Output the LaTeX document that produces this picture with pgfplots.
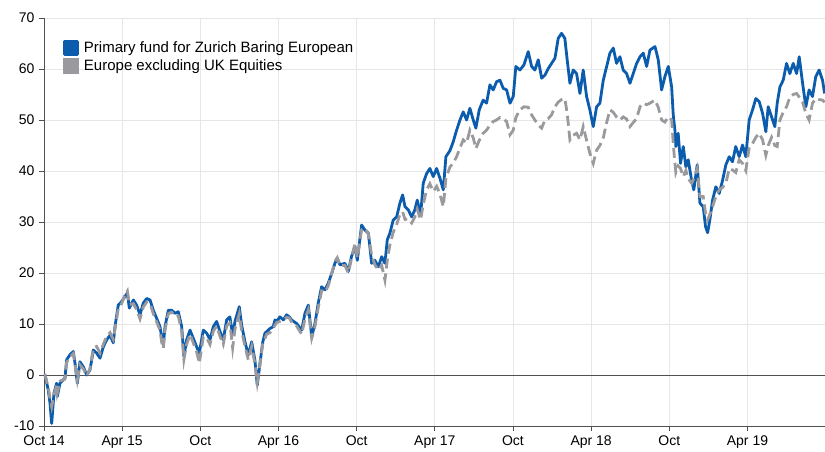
\documentclass[border=0pt]{standalone}
\usepackage{fontspec}
\setmainfont{Liberation Sans}
\usepackage{pgfplots}
\pgfplotsset{compat=1.18}
\definecolor{fundblue}{HTML}{0B5CAD}
\definecolor{benchgrey}{HTML}{9A9A9E}
\definecolor{gridgrey}{HTML}{E6E6E6}
\definecolor{axisgrey}{HTML}{505050}
\begin{document}
\begin{tikzpicture}
\begin{axis}[
  name=ax,
  scale only axis,
  width=781pt, height=408pt,
  xmin=0, xmax=59.95, ymin=-10, ymax=70,
  axis x line=bottom, axis y line=left,
  axis line style={-, axisgrey, line width=0.9pt},
  xtick={0,6,12,18,24,30,36,42,48,54},
  xticklabels={Oct 14,Apr 15,Oct,Apr 16,Oct,Apr 17,Oct,Apr 18,Oct,Apr 19},
  ytick={-10,0,10,20,30,40,50,60,70},
  extra y ticks={0}, extra y tick labels={},
  extra y tick style={grid style={axisgrey, line width=0.9pt}, major tick length=0pt},
  xmajorgrids, ymajorgrids,
  grid style={gridgrey, line width=0.8pt},
  tick align=outside,
  major tick length=5pt,
  tick style={axisgrey, line width=0.9pt},
  every tick label/.append style={font=\fontsize{14}{16}\selectfont, text=black},
  /pgf/number format/assume math mode=true,
  xticklabel style={yshift=-1pt},
  yticklabel style={xshift=-1pt},
  clip=true,
  legend cell align=left,
  legend style={at={(0.0243,0.951)}, anchor=north west, draw=none, fill=none,
    font=\fontsize{15}{17}\selectfont, inner xsep=0pt, inner ysep=0pt,
    nodes={inner xsep=5pt, inner ysep=3.5pt}, row sep=-1.5pt},
  legend image code/.code={\fill[#1, solid] (0pt,-6.5pt) rectangle (13pt,6.5pt);},
]
\addplot[color=fundblue, line width=2.8pt, line join=round] coordinates {
(0.00,0) (0.08,0) (0.33,-3) (0.46,-5.5) (0.59,-9.5) (0.77,-3.5) (0.97,-1.6) (1.02,-4.2) (1.23,-1.6) (1.61,-0.6)
(1.74,3) (2.0,4) (2.25,4.6) (2.38,2.3) (2.56,-1.6) (2.76,2.6) (3.02,1.6) (3.28,0) (3.53,1) (3.79,4.9)
(4.04,4.3) (4.30,3.3) (4.55,5.5) (4.81,6.9) (5.07,7.8) (5.32,6.3) (5.45,9.5) (5.70,13.7) (5.96,14.4) (6.22,15.4)
(6.40,16.1) (6.55,13.1) (6.86,14.7) (7.11,13.7) (7.37,11.8) (7.62,14.1) (7.88,15) (8.14,14.7) (8.39,12.7) (8.65,11.1)
(8.90,9.5) (9.03,7.5) (9.16,5.9) (9.29,9.5) (9.54,12.7) (9.80,12.7) (10.05,12.1) (10.31,12.4) (10.57,9.5) (10.74,3.6)
(10.95,6.9) (11.21,8.8) (11.46,7.2) (11.72,5.5) (11.92,4.3) (12.23,8.8) (12.49,8.2) (12.74,6.9) (13.0,9.5) (13.25,10.5)
(13.51,8.5) (13.76,6.9) (14.02,10.8) (14.27,11.4) (14.48,7.8) (14.66,10.5) (14.99,13.4) (15.17,9.8) (15.43,6.5) (15.68,3.9)
(15.94,6.5) (16.19,2.9) (16.37,-2) (16.58,2.3) (16.78,6.3) (16.96,8.2) (17.09,8.5) (17.34,9.1) (17.60,9.5) (17.73,10.8)
(17.86,10.5) (18.11,11.4) (18.37,10.8) (18.62,11.8) (18.83,11.4) (19.0,10.8) (19.39,10.1) (19.78,8.8) (20.03,12.1) (20.29,13.7)
(20.55,7.5) (20.8,10.1) (21.05,14.1) (21.31,17.3) (21.57,16.7) (21.82,18.0) (22.08,19.9) (22.33,21.9) (22.51,22.9) (22.72,21.6)
(23.1,21.9) (23.36,20.3) (23.6,23.2) (23.87,25.2) (24.05,22.5) (24.38,29.4) (24.64,28.4) (24.9,27.8) (25.15,21.9) (25.4,22.5)
(25.66,21.2) (25.92,23.2) (26.17,21.9) (26.35,26.5) (26.55,27.8) (26.81,30.4) (27.07,31.0) (27.32,33.7) (27.53,35.3) (27.71,33.0)
(27.96,32.4) (28.22,31.0) (28.47,32.4) (28.65,34.3) (28.91,31.4) (29.11,37.6) (29.37,39.5) (29.62,40.5) (29.88,38.9) (30.14,40.5)
(30.39,38.6) (30.65,36.3) (30.85,42.8) (31.16,44.0) (31.41,45.7) (31.67,48.0) (31.93,50.0) (32.18,51.6) (32.44,50.0) (32.69,52.3)
(32.95,50.0) (33.15,48.4) (33.41,52.0) (33.71,53.9) (33.97,53.3) (34.23,56.9) (34.48,55.9) (34.74,57.5) (35.0,57.8) (35.25,56.2)
(35.51,55.9) (35.77,53.3) (36.02,54.6) (36.22,60.5) (36.53,59.8) (36.84,60.8) (37.17,63.4) (37.43,60.5) (37.68,59.8) (37.94,61.8)
(38.2,58.2) (38.45,58.8) (38.71,60.1) (38.96,61.1) (39.22,62.1) (39.47,66.0) (39.73,67.0) (39.98,66.0) (40.16,61.8) (40.37,57.2)
(40.62,59.8) (40.88,59.1) (41.14,55.2) (41.39,59.8) (41.65,54.6) (41.9,52.0) (42.16,48.7) (42.42,52.6) (42.67,53.3) (42.93,57.8)
(43.19,60.5) (43.44,63.1) (43.7,64.1) (43.95,61.1) (44.21,62.4) (44.46,59.8) (44.72,59.1) (44.98,57.2) (45.23,59.1) (45.49,61.1)
(45.75,62.4) (46.0,63.1) (46.26,60.5) (46.51,63.7) (46.9,64.4) (47.15,61.8) (47.41,55.9) (47.66,58.5) (47.92,60.5) (48.18,56.5)
(48.3,51.0) (48.43,48.0) (48.5,44.8) (48.68,47.4) (48.86,41.5) (49.07,44.8) (49.27,40.8) (49.45,42.2) (49.71,38.2) (49.88,36.3)
(50.14,41.2) (50.35,33.7) (50.6,33.0) (50.78,29.1) (50.94,27.9) (51.11,30.4) (51.32,34.3) (51.57,36.9) (51.83,35.6) (52.09,38.2)
(52.34,41.2) (52.6,42.8) (52.85,41.8) (53.1,44.8) (53.36,42.8) (53.62,45.1) (53.87,42.8) (54.13,50.0) (54.39,52.0) (54.64,54.2)
(54.9,53.6) (55.16,51.3) (55.41,47.7) (55.59,52.6) (55.85,50.6) (56.1,48.7) (56.28,53.3) (56.49,56.5) (56.74,57.8) (57.0,61.1)
(57.25,59.1) (57.51,61.1) (57.77,59.1) (57.97,62.4) (58.23,57.2) (58.48,52.6) (58.73,55.9) (58.99,54.6) (59.24,58.5) (59.5,59.8)
(59.76,57.8) (59.92,55.2)
};
\addlegendentry{Primary fund for Zurich Baring European}
\addplot[color=benchgrey, line width=2.8pt, dash pattern=on 10pt off 5pt] coordinates {
(0.00,0) (0.08,0) (0.33,-2.5) (0.46,-4.5) (0.59,-6.2) (0.77,-3.8) (0.97,-2) (1.02,-3.5) (1.23,-1.2) (1.61,-0.8)
(1.74,2.5) (2.0,3.6) (2.25,4.2) (2.38,2.0) (2.56,-1.0) (2.76,2.0) (3.02,1.2) (3.28,-0.2) (3.53,1.3) (3.79,5.3)
(4.04,5.6) (4.30,4.3) (4.55,6.0) (4.81,7.6) (5.07,8.3) (5.32,7.0) (5.45,9.0) (5.70,13.0) (5.96,14.0) (6.22,15.8)
(6.40,16.5) (6.55,13.8) (6.86,14.0) (7.11,12.8) (7.37,11.0) (7.62,13.3) (7.88,14.3) (8.14,14.0) (8.39,12.0) (8.65,10.4)
(8.90,8.8) (9.03,6.5) (9.16,5.2) (9.29,8.8) (9.54,12.0) (9.80,12.3) (10.05,11.5) (10.31,11.6) (10.57,8.5) (10.74,3.0)
(10.95,6.0) (11.21,8.0) (11.46,6.3) (11.72,4.5) (11.92,2.3) (12.23,7.5) (12.49,7.3) (12.74,6.0) (13.0,8.6) (13.25,9.6)
(13.51,7.6) (13.76,6.0) (14.02,9.6) (14.27,10.2) (14.48,5.3) (14.66,9.0) (14.99,12.0) (15.17,8.6) (15.43,5.6) (15.68,3.0)
(15.94,5.6) (16.19,2.2) (16.37,-1.5) (16.58,2.0) (16.78,6.0) (17.09,8.0) (17.34,8.3) (17.60,9.2) (17.86,10.3) (18.11,10.5)
(18.37,10.8) (18.62,11.3) (18.83,11.2) (19.0,10.4) (19.39,9.6) (19.78,8.0) (20.03,11.0) (20.29,12.8) (20.55,7.2) (20.8,9.5)
(21.05,13.2) (21.31,16.5) (21.57,16.2) (21.82,17.5) (22.08,19.8) (22.33,22.3) (22.51,23.0) (22.72,21.4) (23.1,21.5) (23.36,20.0)
(23.6,22.8) (23.87,25.8) (24.05,23.0) (24.38,28.5) (24.64,28.8) (24.9,27.6) (25.15,23.5) (25.4,21.6) (25.66,20.6) (25.92,21.5)
(26.17,18.6) (26.35,22.5) (26.55,25.5) (26.81,28.0) (27.07,29.5) (27.32,31.5) (27.53,32.0) (27.71,30.5) (27.96,30.6) (28.22,29.8)
(28.47,31.0) (28.65,32.5) (28.91,30.4) (29.11,33.5) (29.37,36.3) (29.62,37.5) (29.88,36.0) (30.14,37.0) (30.39,35.5) (30.65,33.0)
(30.85,38.5) (31.16,40.8) (31.41,41.5) (31.67,42.8) (31.93,44.5) (32.18,46.1) (32.44,45.5) (32.69,48.0) (32.95,46.5) (33.15,44.4)
(33.41,46.0) (33.71,47.4) (33.97,48.0) (34.23,49.0) (34.48,49.7) (34.74,50.0) (35.0,50.5) (35.25,50.3) (35.51,49.7) (35.77,47.1)
(36.02,48.0) (36.22,50.5) (36.53,52.0) (36.84,52.6) (37.17,52.5) (37.43,51.0) (37.68,50.0) (37.94,49.0) (38.2,48.4) (38.45,50.0)
(38.71,50.3) (38.96,51.0) (39.22,52.6) (39.47,53.5) (39.73,54.0) (39.98,54.2) (40.16,51.3) (40.37,46.1) (40.62,47.0) (40.88,47.4)
(41.14,46.1) (41.39,48.7) (41.65,46.0) (41.9,43.5) (42.16,41.5) (42.42,44.1) (42.67,45.0) (42.93,46.5) (43.19,49.5) (43.44,52.0)
(43.7,51.5) (43.95,50.6) (44.21,50.0) (44.46,50.6) (44.72,50.2) (44.98,48.7) (45.23,49.5) (45.49,50.3) (45.75,52.6) (46.0,53.3)
(46.26,53.0) (46.51,53.3) (46.9,53.9) (47.15,52.5) (47.41,50.0) (47.66,49.6) (47.92,50.6) (48.18,50.0) (48.3,45.4) (48.43,41.5)
(48.5,39.7) (48.68,41.0) (48.86,40.5) (49.07,38.9) (49.27,40.1) (49.45,38.5) (49.71,37.6) (49.88,38.5) (50.14,40.5) (50.35,35.0)
(50.6,35.0) (50.78,31.7) (50.94,30.4) (51.11,31.5) (51.32,33.0) (51.57,35.0) (51.83,36.3) (52.09,36.8) (52.34,37.6) (52.6,40.5)
(52.85,40.2) (53.1,39.7) (53.36,42.2) (53.62,41.5) (53.87,40.1) (54.13,44.5) (54.39,45.4) (54.64,46.6) (54.9,47.4) (55.16,46.1)
(55.41,43.1) (55.59,45.0) (55.85,46.6) (56.1,45.0) (56.28,44.8) (56.49,50.0) (56.74,51.5) (57.0,52.6) (57.25,54.5) (57.51,55.0)
(57.77,55.2) (57.97,54.5) (58.23,53.5) (58.48,51.3) (58.73,50.0) (58.99,53.3) (59.24,54.2) (59.5,54.0) (59.76,53.9) (59.92,53.5)
};
\addlegendentry{Europe excluding UK Equities}
\end{axis}
\pgfresetboundingbox
\path ([shift={(-44pt,-26pt)}]ax.south west) rectangle ([shift={(0pt,18pt)}]ax.north east);
\end{tikzpicture}
\end{document}
